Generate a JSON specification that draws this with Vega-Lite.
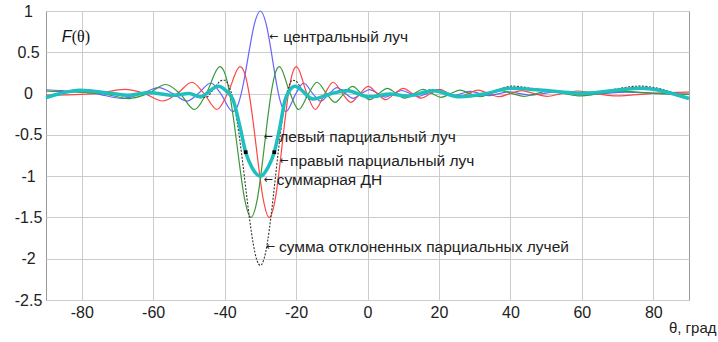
{
"$schema": "https://vega.github.io/schema/vega-lite/v6.json",
"width": 643, "height": 289,
"autosize": {"type": "none"},
"padding": {"left": 46, "top": 11, "right": 29, "bottom": 42},
"background": "white",
"config": {"view": {"stroke": "#9a9a9a", "strokeWidth": 1}, "font": "Liberation Sans"},
"datasets": {
"blue": [{"t":-90,"v":0.046},{"t":-76.2,"v":0},{"t":-68.5,"v":-0.058},{"t":-63.2,"v":0},{"t":-58.4,"v":0.071},{"t":-54.5,"v":0},{"t":-50.59,"v":-0.091},{"t":-47.36,"v":0},{"t":-43.88,"v":0.128},{"t":-41.08,"v":0},{"t":-37.76,"v":-0.217},{"t":-36.51,"v":-0.161},{"t":-35.35,"v":0},{"t":-34.23,"v":0.239},{"t":-33.19,"v":0.5},{"t":-31.67,"v":0.841},{"t":-30,"v":1},{"t":-28.36,"v":0.841},{"t":-26.91,"v":0.5},{"t":-25.94,"v":0.239},{"t":-24.93,"v":0},{"t":-23.89,"v":-0.161},{"t":-22.81,"v":-0.217},{"t":-20.05,"v":0},{"t":-17.87,"v":0.128},{"t":-15.33,"v":0},{"t":-13.14,"v":-0.091},{"t":-10.71,"v":0},{"t":-8.53,"v":0.071},{"t":-6.16,"v":0},{"t":-3.99,"v":-0.058},{"t":-1.65,"v":0},{"t":0.53,"v":0.049},{"t":2.85,"v":0},{"t":5.05,"v":-0.042},{"t":7.37,"v":0},{"t":9.59,"v":0.037},{"t":11.94,"v":0},{"t":14.2,"v":-0.034},{"t":16.58,"v":0},{"t":18.9,"v":0.03},{"t":21.34,"v":0},{"t":23.74,"v":-0.028},{"t":26.26,"v":0},{"t":28.76,"v":0.026},{"t":31.4,"v":0},{"t":34.04,"v":-0.024},{"t":36.84,"v":0},{"t":39.67,"v":0.022},{"t":42.7,"v":0},{"t":45.8,"v":-0.02},{"t":49.17,"v":0},{"t":52.7,"v":0.019},{"t":56.63,"v":0},{"t":60.93,"v":-0.018},{"t":66.03,"v":0},{"t":72.3,"v":0.017},{"t":82.9,"v":0},{"t":90,"v":-0.005}],
"green": [{"t":-90,"v":0.03},{"t":-74.42,"v":0},{"t":-66.78,"v":-0.06},{"t":-61.46,"v":0},{"t":-56.46,"v":0.11},{"t":-52.52,"v":0},{"t":-48.39,"v":-0.193},{"t":-45.13,"v":0},{"t":-41.32,"v":0.326},{"t":-39.91,"v":0.242},{"t":-38.59,"v":0},{"t":-37.33,"v":-0.359},{"t":-36.16,"v":-0.75},{"t":-34.46,"v":-1.262},{"t":-32.6,"v":-1.5},{"t":-30.78,"v":-1.262},{"t":-29.18,"v":-0.75},{"t":-28.12,"v":-0.359},{"t":-26.99,"v":0},{"t":-25.86,"v":0.242},{"t":-24.67,"v":0.326},{"t":-21.65,"v":0},{"t":-19.27,"v":-0.193},{"t":-16.5,"v":0},{"t":-14.13,"v":0.137},{"t":-11.49,"v":0},{"t":-9.13,"v":-0.106},{"t":-6.56,"v":0},{"t":-4.21,"v":0.087},{"t":-1.68,"v":0},{"t":0.67,"v":-0.074},{"t":3.18,"v":0},{"t":5.56,"v":0.064},{"t":8.08,"v":0},{"t":10.48,"v":-0.056},{"t":13.02,"v":0},{"t":15.48,"v":0.05},{"t":18.08,"v":0},{"t":20.61,"v":-0.045},{"t":23.28,"v":0},{"t":25.91,"v":0.042},{"t":28.69,"v":0},{"t":31.45,"v":-0.038},{"t":34.4,"v":0},{"t":37.37,"v":0.035},{"t":40.53,"v":0},{"t":43.77,"v":-0.033},{"t":47.29,"v":0},{"t":50.95,"v":0.031},{"t":55.06,"v":0},{"t":59.5,"v":-0.029},{"t":64.78,"v":0},{"t":71.19,"v":0.027},{"t":81.7,"v":0},{"t":90,"v":-0.01}],
"red": [{"t":-90,"v":-0.02},{"t":-76.2,"v":0},{"t":-67.97,"v":0.05},{"t":-62.4,"v":0},{"t":-57.33,"v":-0.09},{"t":-53.25,"v":0},{"t":-49.15,"v":0.137},{"t":-45.76,"v":0},{"t":-42.11,"v":-0.193},{"t":-39.16,"v":0},{"t":-35.67,"v":0.326},{"t":-34.36,"v":0.242},{"t":-33.14,"v":0},{"t":-31.96,"v":-0.359},{"t":-30.86,"v":-0.75},{"t":-29.26,"v":-1.262},{"t":-27.5,"v":-1.5},{"t":-25.76,"v":-1.262},{"t":-24.23,"v":-0.75},{"t":-23.21,"v":-0.359},{"t":-22.14,"v":0},{"t":-21.04,"v":0.242},{"t":-19.89,"v":0.326},{"t":-16.97,"v":0},{"t":-14.65,"v":-0.193},{"t":-11.95,"v":0},{"t":-9.61,"v":0.137},{"t":-7.01,"v":0},{"t":-4.68,"v":-0.106},{"t":-2.13,"v":0},{"t":0.21,"v":0.087},{"t":2.74,"v":0},{"t":5.1,"v":-0.074},{"t":7.62,"v":0},{"t":10.02,"v":0.064},{"t":12.57,"v":0},{"t":15.01,"v":-0.056},{"t":17.61,"v":0},{"t":20.12,"v":0.05},{"t":22.79,"v":0},{"t":25.41,"v":-0.045},{"t":28.18,"v":0},{"t":30.93,"v":0.042},{"t":33.86,"v":0},{"t":36.79,"v":-0.038},{"t":39.95,"v":0},{"t":43.16,"v":0.035},{"t":46.64,"v":0},{"t":50.25,"v":-0.033},{"t":54.28,"v":0},{"t":58.62,"v":0.031},{"t":63.74,"v":0},{"t":69.86,"v":-0.029},{"t":79.02,"v":0},{"t":90,"v":0.017}],
"dotted": [{"t":-90,"v":-0.06},{"t":-86,"v":-0.01},{"t":-80.5,"v":0.05},{"t":-73,"v":0.01},{"t":-67.4,"v":-0.03},{"t":-61,"v":0.02},{"t":-54.4,"v":-0.03},{"t":-50,"v":0},{"t":-47,"v":-0.05},{"t":-45,"v":-0.042},{"t":-44,"v":0.003},{"t":-43,"v":0.06},{"t":-42,"v":0.117},{"t":-41,"v":0.157},{"t":-40,"v":0.162},{"t":-39,"v":0.112},{"t":-38,"v":-0.009},{"t":-37,"v":-0.208},{"t":-36,"v":-0.482},{"t":-35,"v":-0.814},{"t":-34,"v":-1.175},{"t":-33,"v":-1.524},{"t":-32,"v":-1.817},{"t":-31,"v":-2.013},{"t":-30,"v":-2.081},{"t":-29,"v":-2.007},{"t":-28,"v":-1.799},{"t":-27,"v":-1.481},{"t":-26,"v":-1.102},{"t":-25,"v":-0.71},{"t":-24,"v":-0.357},{"t":-23,"v":-0.084},{"t":-22,"v":0.088},{"t":-21,"v":0.161},{"t":-20,"v":0.152},{"t":-19,"v":0.093},{"t":-18,"v":0.017},{"t":-17,"v":-0.045},{"t":-16,"v":-0.076},{"t":-15,"v":-0.071},{"t":-10,"v":0.01},{"t":-5.8,"v":0.05},{"t":0.7,"v":-0.05},{"t":6.3,"v":0},{"t":11,"v":-0.04},{"t":18.4,"v":0.05},{"t":25.9,"v":-0.04},{"t":33.4,"v":0},{"t":40.5,"v":0.09},{"t":48,"v":0.05},{"t":60.3,"v":0},{"t":76.3,"v":0.09},{"t":90,"v":-0.06}],
"cyan": [{"t":-90,"v":-0.05},{"t":-86,"v":0},{"t":-80.5,"v":0.04},{"t":-73,"v":0.01},{"t":-67.4,"v":-0.02},{"t":-61,"v":0.01},{"t":-54.4,"v":-0.02},{"t":-50,"v":0},{"t":-46.9,"v":-0.04},{"t":-41.8,"v":0.09},{"t":-39.5,"v":0.03},{"t":-37.6,"v":-0.08},{"t":-35.7,"v":-0.4},{"t":-34.1,"v":-0.71},{"t":-32.4,"v":-0.89},{"t":-30,"v":-1.0},{"t":-27.8,"v":-0.89},{"t":-26.1,"v":-0.71},{"t":-24.5,"v":-0.4},{"t":-23.1,"v":-0.08},{"t":-21.8,"v":0.04},{"t":-20.3,"v":0.09},{"t":-15.2,"v":-0.065},{"t":-10,"v":0},{"t":-5.8,"v":0.035},{"t":0.7,"v":-0.04},{"t":6.3,"v":-0.005},{"t":11,"v":-0.03},{"t":18.4,"v":0.035},{"t":25.9,"v":-0.04},{"t":33.4,"v":0},{"t":39.9,"v":0.064},{"t":48.3,"v":0.043},{"t":60.3,"v":0.003},{"t":76.3,"v":0.064},{"t":90,"v":-0.06}],
"markers": [{"t":-34.1,"v":-0.71},{"t":-26.1,"v":-0.71}],
"labels": [{"t":-23.6,"v":0.685,"label":"центральный луч"},{"t":-24.7,"v":-0.522,"label":"левый парциальный луч"},{"t":-21.7,"v":-0.813,"label":"правый парциальный луч"},{"t":-25.4,"v":-1.047,"label":"суммарная ДН"},{"t":-24.8,"v":-1.855,"label":"сумма отклоненных парциальных лучей"}],
"arrows": [{"t":-26.3,"v":0.685},{"t":-27.8,"v":-0.522},{"t":-23.4,"v":-0.813},{"t":-27.8,"v":-1.047},{"t":-27.2,"v":-1.855}]
},
"encoding": {
"x": {"field": "t", "type": "quantitative", "scale": {"domain": [-90, 90], "nice": false, "zero": false},
 "axis": {"values": [-80,-60,-40,-20,0,20,40,60,80], "labelExpr": "'' + datum.value", "grid": true, "gridColor": "#cccccc", "domain": false, "ticks": false, "labelPadding": 4, "labelFontSize": 16, "labelColor": "#222222", "labelFont": "Liberation Sans", "title": "θ, град", "titleFont": "Liberation Sans", "titleFontSize": 15, "titleFontWeight": "normal", "titleColor": "#222222", "titleAlign": "right", "titleAnchor": "end", "titleX": 670, "titleY": 27, "titleBaseline": "middle"}},
"y": {"field": "v", "type": "quantitative", "scale": {"domain": [-2.5, 1], "nice": false, "zero": false},
 "axis": {"values": [-2.5,-2,-1.5,-1,-0.5,0,0.5,1], "labelExpr": "'' + datum.value", "grid": true, "gridColor": "#cccccc", "domain": false, "ticks": false, "tickSize": 0, "labelAlign": "center", "labelPadding": 18, "labelFontSize": 16, "labelColor": "#222222", "labelFont": "Liberation Sans", "title": null}}
},
"layer": [
{"data": {"name": "blue"}, "mark": {"type": "line", "interpolate": "monotone", "color": "#6464ff", "strokeWidth": 1.2}},
{"data": {"name": "red"}, "mark": {"type": "line", "interpolate": "monotone", "color": "#ff4444", "strokeWidth": 1.2}},
{"data": {"name": "green"}, "mark": {"type": "line", "interpolate": "monotone", "color": "#3a983a", "strokeWidth": 1.2}},
{"data": {"name": "dotted"}, "mark": {"type": "line", "interpolate": "monotone", "color": "#333333", "strokeWidth": 1.1, "strokeDash": [2, 1.5]}},
{"data": {"name": "cyan"}, "mark": {"type": "line", "interpolate": "monotone", "color": "#1fbfbf", "strokeWidth": 3.5}},
{"data": {"name": "markers"}, "mark": {"type": "square", "color": "#000000", "size": 14, "opacity": 1, "filled": true}},
{"data": {"name": "labels"}, "mark": {"type": "text", "align": "left", "baseline": "middle", "fontSize": 15.5, "font": "Liberation Sans", "color": "#222222"}, "encoding": {"text": {"field": "label"}}},
{"data": {"name": "arrows"}, "mark": {"type": "text", "align": "center", "baseline": "middle", "fontSize": 11, "font": "DejaVu Sans", "color": "#222222", "text": "←"}},
{"data": {"values": [{"t": -85.6, "v": 0.685}]}, "mark": {"type": "text", "align": "left", "baseline": "middle", "fontSize": 16, "font": "Liberation Sans", "fontStyle": "italic", "color": "#111111", "text": "F"}},
{"data": {"values": [{"t": -82.8, "v": 0.685}]}, "mark": {"type": "text", "align": "left", "baseline": "middle", "fontSize": 16, "font": "Liberation Serif", "color": "#111111", "text": "(θ)"}}
]
}
